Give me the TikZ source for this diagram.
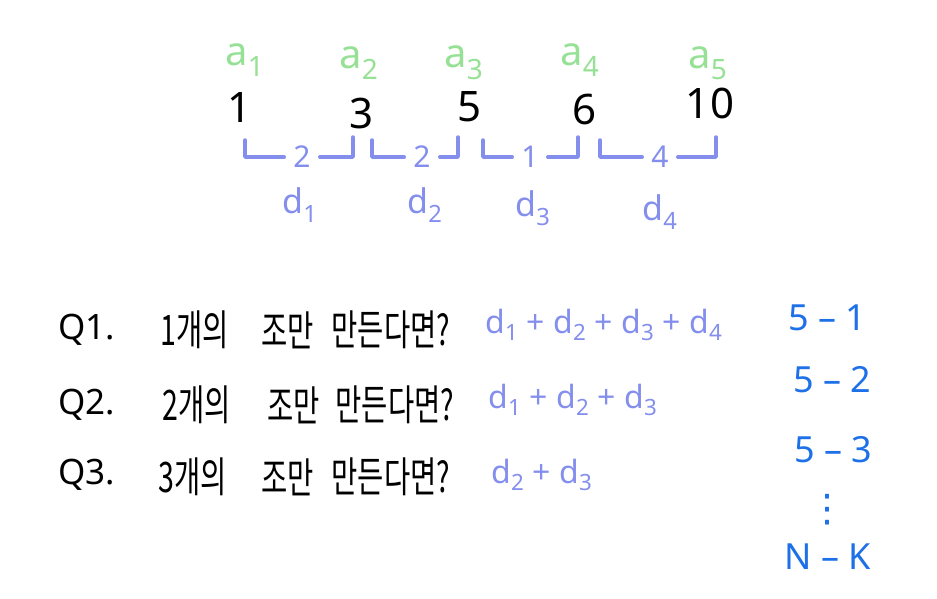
\documentclass[tikz,border=0pt]{standalone}
\usepackage{fontspec}
\setmainfont{Noto Sans}
\newfontfamily\kr[FakeStretch=0.68]{Noto Sans CJK KR}
\newfontfamily\sym{DejaVu Sans}
\usepackage{xcolor}

\definecolor{seqgreen}{RGB}{150,225,150}
\definecolor{gaplav}{RGB}{132,142,236}
\definecolor{ansblue}{RGB}{30,112,232}

\newcommand{\fs}[1]{\fontsize{#1}{#1}\selectfont}

\tikzset{
  idx/.style={text=seqgreen, font=\fs{40}},
  val/.style={text=black, font=\fs{42}},
  gap/.style={text=gaplav, font=\fs{30}, inner sep=9pt},
  dlab/.style={text=gaplav, font=\fs{34}},
  brk/.style={draw=gaplav, line width=3.5pt, line cap=round, line join=round},
  qlab/.style={text=black, font=\fs{35}, anchor=west},
  qtxt/.style={text=black, font=\kr\fs{42}, anchor=west},
  expr/.style={text=gaplav, font=\fs{32}, anchor=west},
  ans/.style={text=ansblue, font=\fs{36}}
}

\begin{document}
\begin{tikzpicture}[x=1pt, y=-1pt]
    \useasboundingbox (0,0) rectangle (937,598);

    % sequence a_i and its values
    \node[idx] (a1) at (245,60) {a\textsubscript{1}};
    \node[idx] (a2) at (359,63) {a\textsubscript{2}};
    \node[idx] (a3) at (464,63) {a\textsubscript{3}};
    \node[idx] (a4) at (580,60) {a\textsubscript{4}};
    \node[idx] (a5) at (708,63) {a\textsubscript{5}};

    \node[val] (v1) at (240,108) {1};
    \node[val] (v2) at (362,114) {3};
    \node[val] (v3) at (470,107) {5};
    \node[val] (v4) at (585,110) {6};
    \node[val] (v5) at (710,103) {10};

    % gaps between neighbours
    \foreach \i/\l/\m/\r/\v in {1/245/302/353/2, 2/372/422/458/2, 3/483/530/578/1, 4/600/660/716/4} {
        \node[gap] (g\i) at (\m,157) {\v};
        \coordinate (gl\i) at (\l,140);
        \coordinate (gr\i) at (\r,137);
        \draw[brk] (gl\i) |- (g\i.west);
        \draw[brk] (g\i.east) -| (gr\i);
    }

    \node[dlab] (d1) at (300,205) {d\textsubscript{1}};
    \node[dlab] (d2) at (425,205) {d\textsubscript{2}};
    \node[dlab] (d3) at (533,208) {d\textsubscript{3}};
    \node[dlab] (d4) at (660,212) {d\textsubscript{4}};

    % questions
    \node[qlab] (q1) at (55,330) {Q1.};
    \node[qlab] (q2) at (55,405) {Q2.};
    \node[qlab] (q3) at (55,475) {Q3.};

    \node[qtxt] (q1a) at (157,330) {1개의};
    \node[qtxt] (q1b) at (258,330) {조만};
    \node[qtxt] (q1c) at (328,330) {만든다면?};
    \node[qtxt] (q2a) at (159,405) {2개의};
    \node[qtxt] (q2b) at (264,405) {조만};
    \node[qtxt] (q2c) at (332,405) {만든다면?};
    \node[qtxt] (q3a) at (155,477) {3개의};
    \node[qtxt] (q3b) at (258,477) {조만};
    \node[qtxt] (q3c) at (328,477) {만든다면?};

    % sums
    \node[expr] (s1) at (482,325) {d\textsubscript{1} + d\textsubscript{2} + d\textsubscript{3} + d\textsubscript{4}};
    \node[expr] (s2) at (485,400) {d\textsubscript{1} + d\textsubscript{2} + d\textsubscript{3}};
    \node[expr] (s3) at (488,475) {d\textsubscript{2} + d\textsubscript{3}};

    % answers
    \node[ans] (r1) at (827,318) {5 – 1};
    \node[ans] (r2) at (832,380) {5 – 2};
    \node[ans] (r3) at (833,450) {5 – 3};
    \node[ans, font=\sym\fs{38}] (r4) at (827,510) {⋮};
    \node[ans] (r5) at (828,557) {N – K};
\end{tikzpicture}
\end{document}
